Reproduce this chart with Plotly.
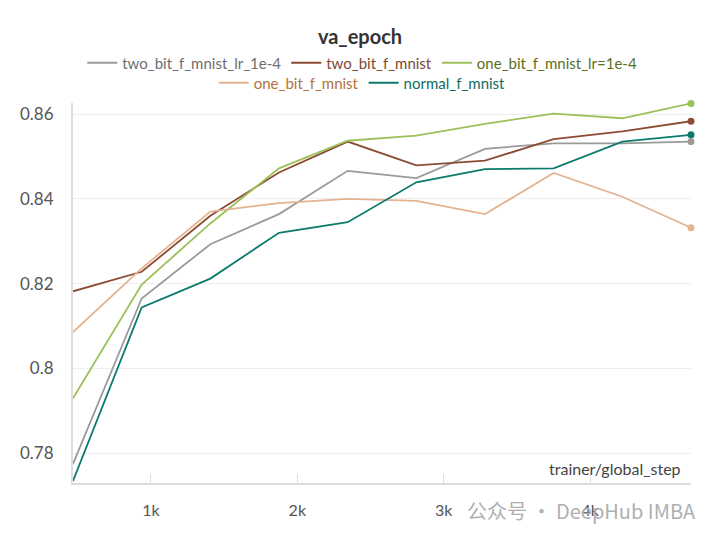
import plotly.graph_objects as go

steps = [468, 937, 1406, 1875, 2344, 2813, 3282, 3751, 4220, 4689]

two_bit_lr = [0.7775, 0.8165, 0.8293, 0.8364, 0.8466, 0.8449, 0.8518, 0.8531, 0.8531, 0.8535]
two_bit = [0.8182, 0.8228, 0.8360, 0.8462, 0.8535, 0.8479, 0.8490, 0.8541, 0.8559, 0.8583]
one_bit_lr = [0.7930, 0.8198, 0.8342, 0.8472, 0.8537, 0.8549, 0.8577, 0.8601, 0.8590, 0.8625]
one_bit = [0.8086, 0.8236, 0.8370, 0.8390, 0.8400, 0.8395, 0.8364, 0.8461, 0.8405, 0.8332]
normal = [0.7735, 0.8144, 0.8212, 0.8320, 0.8345, 0.8439, 0.8470, 0.8472, 0.8535, 0.8551]

names = ["two_bit_f_mnist_lr_1e-4", "two_bit_f_mnist", "one_bit_f_mnist_lr=1e-4",
         "one_bit_f_mnist", "normal_f_mnist"]
series = [two_bit_lr, two_bit, one_bit_lr, one_bit, normal]
line_colors = ["#9a9a9a", "#8b4c33", "#9cc05a", "#e4b391", "#0c7a6c"]
text_colors = ["#6e6e6e", "#7d4a33", "#5e6e22", "#b27340", "#0c6e62"]
legend_ids = ["legend", "legend", "legend", "legend2", "legend2"]

FONT = "Lato"

fig = go.Figure()
for name, ys, lc, tc, lg in zip(names, series, line_colors, text_colors, legend_ids):
    fig.add_trace(go.Scatter(
        x=steps, y=ys, mode="lines",
        name=f"<span style='color:{tc}'>{name}</span>",
        line=dict(color=lc, width=1.8),
        legend=lg, cliponaxis=False, hoverinfo="skip"))
for ys, lc in zip(series, line_colors):
    fig.add_trace(go.Scatter(
        x=[steps[-1]], y=[ys[-1]], mode="markers",
        marker=dict(color=lc, size=7), showlegend=False,
        cliponaxis=False, hoverinfo="skip"))

fig.update_layout(
    width=720, height=540,
    paper_bgcolor="white", plot_bgcolor="white",
    margin=dict(l=73, r=29, t=103, b=57, autoexpand=False),
    font=dict(family=FONT, size=15, color="#555555"),
    title=dict(text="<b>va_epoch</b>", x=0.5, xanchor="center", y=1 - 37 / 540, yanchor="middle",
               font=dict(family=FONT, size=20, color="#333333")),
    legend=dict(orientation="h", x=0.468, xanchor="center", y=1 + (103 - 63) / 380, yanchor="middle",
                font=dict(family=FONT, size=15), itemwidth=30, bgcolor="rgba(0,0,0,0)"),
    legend2=dict(orientation="h", x=0.468, xanchor="center", y=1 + (103 - 83) / 380, yanchor="middle",
                 font=dict(family=FONT, size=15), itemwidth=30, bgcolor="rgba(0,0,0,0)"),
    showlegend=True,
)
fig.update_xaxes(range=[468, 4689], showgrid=False, zeroline=False,
                 showline=True, linecolor="#dddddd", linewidth=2,
                 ticks="inside", ticklen=9, tickcolor="#dddddd", tickwidth=1,
                 tickvals=[1000, 2000, 3000, 4000], ticktext=["1k", "2k", "3k", "4k"],
                 tickfont=dict(size=16, color="#555555"), ticklabelstandoff=12)
fig.update_yaxes(range=[0.773, 0.8626], showgrid=True, gridcolor="#eeeeee", gridwidth=1,
                 zeroline=False, showline=True, linecolor="#dddddd", linewidth=2,
                 tickvals=[0.78, 0.80, 0.82, 0.84, 0.86], ticktext=["0.78", "0.8", "0.82", "0.84", "0.86"],
                 ticks="", tickfont=dict(size=17, color="#555555"), ticklabelstandoff=14)

fig.add_annotation(text="trainer/global_step", xref="paper", yref="paper",
                   x=(683 - 73) / 618, y=(482.7 - 468) / 380, xanchor="right", yanchor="middle",
                   showarrow=False, font=dict(family=FONT, size=16, color="#444444"))
fig.add_annotation(text="公众号 · DeepHub IMBA", xref="paper", yref="paper",
                   x=(698 - 73) / 618, y=-(510 - 482.7) / 380, xanchor="right", yanchor="middle",
                   showarrow=False, font=dict(family="Noto Sans CJK SC", size=20, color="#b0b0b0"))

fig.write_html("out.html", config={"displayModeBar": False},
               post_script="document.body.style.margin='0';")
